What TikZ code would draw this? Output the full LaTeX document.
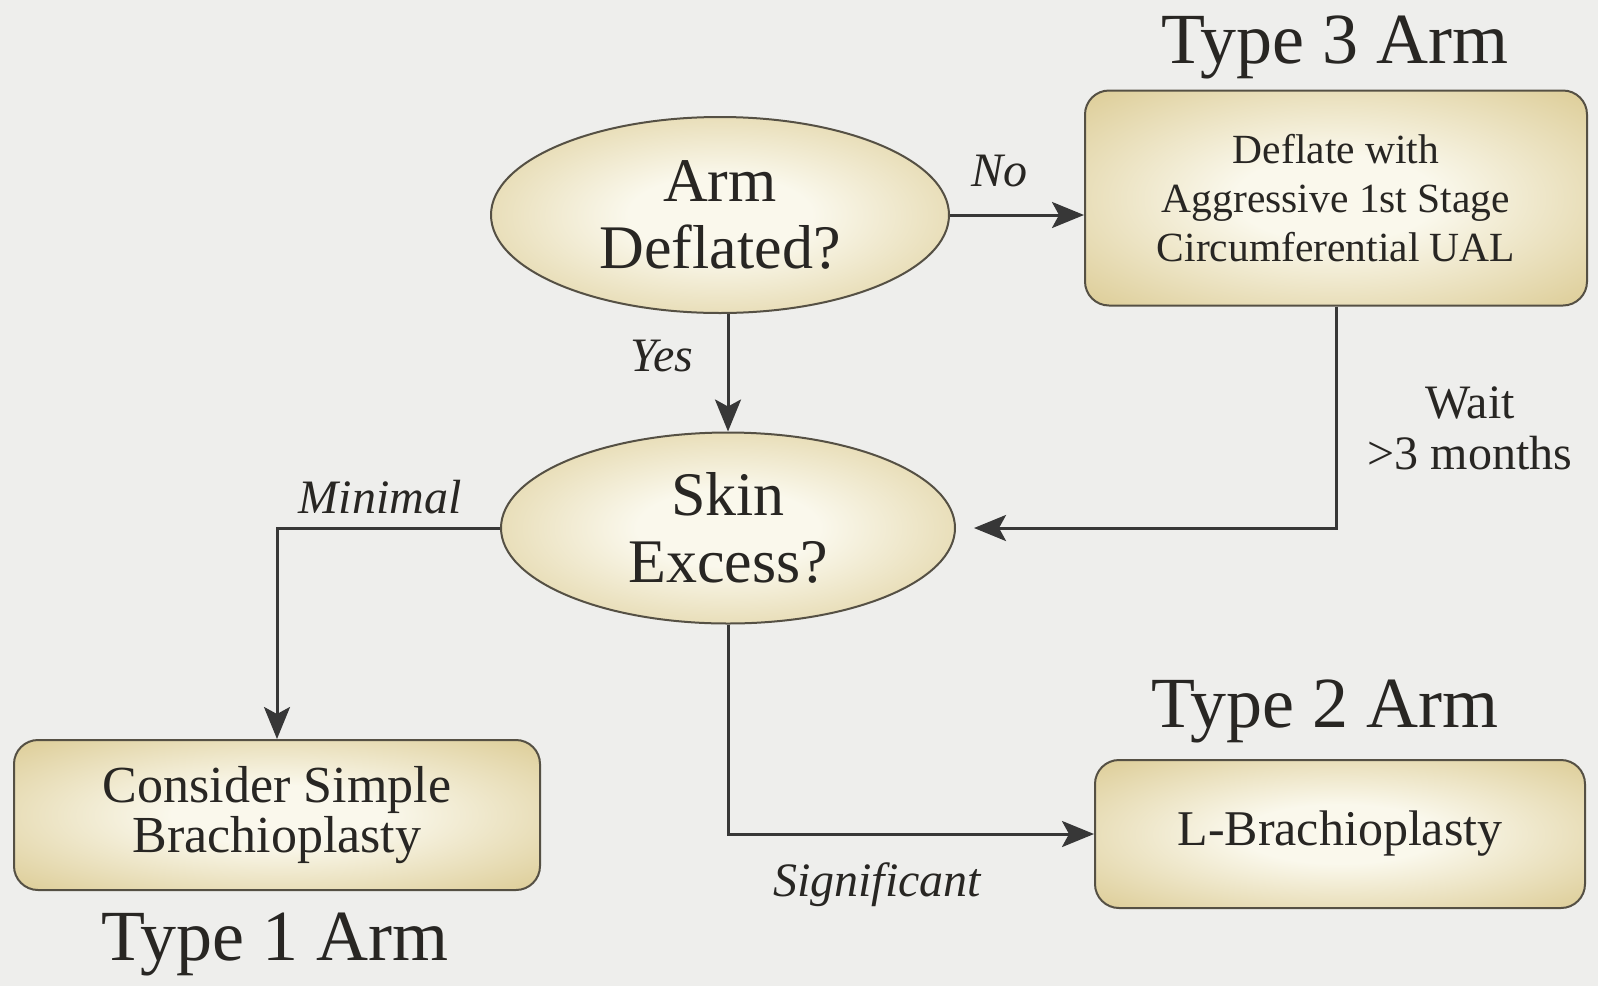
\documentclass[tikz,border=0pt]{standalone}
\usepackage{fontspec}
\setmainfont{Liberation Serif}
\usetikzlibrary{shapes.geometric,arrows.meta,shadings}
\definecolor{goldout}{RGB}{204,180,102}
\definecolor{goldin}{RGB}{250,248,236}
\definecolor{bgc}{RGB}{238,238,236}
\definecolor{edgec}{RGB}{85,80,68}
\definecolor{linec}{RGB}{55,55,55}
\definecolor{txtc}{RGB}{40,38,35}
\pgfdeclareradialshading{goldglow}{\pgfpoint{0bp}{0bp}}{color(0bp)=(goldin); color(10bp)=(goldin); color(50bp)=(goldout); color(72bp)=(goldout)}
\tikzset{
  decision/.style={ellipse, draw=edgec, line width=2pt, shading=goldglow, inner sep=0pt, align=center, text=txtc, font=\fontsize{62}{67}\selectfont},
  actbox/.style={rectangle, rounded corners=24pt, draw=edgec, line width=2pt, shading=goldglow, inner sep=0pt, align=center, text=txtc},
  flow/.style={draw=linec, line width=3pt, -{Stealth[length=32pt,width=26pt,inset=7pt]}},
  lab/.style={text=txtc, font=\fontsize{48}{51}\selectfont\itshape, inner sep=0pt},
  head/.style={text=txtc, font=\fontsize{72}{72}\selectfont, inner sep=0pt}
}
\begin{document}
\begin{tikzpicture}[x=1pt,y=-1pt]
\fill[bgc] (0,0) rectangle (1598,986);
\useasboundingbox (0,0) rectangle (1598,986);

\node[decision, minimum width=458, minimum height=196] (arm) at (720,215) {Arm\\Deflated?};
\node[actbox, minimum width=502, minimum height=215, font=\fontsize{41.5}{49}\selectfont] (deflate) at (1336,198) {Deflate with\\Aggressive 1st Stage\\Circumferential UAL};
\node[decision, minimum width=454, minimum height=191] (skin) at (728,528) {Skin\\Excess?};
\node[actbox, minimum width=526, minimum height=150, font=\fontsize{52}{50}\selectfont] (simple) at (277,815) {Consider Simple\\Brachioplasty};
\node[actbox, minimum width=490, minimum height=148, font=\fontsize{50}{50}\selectfont] (lbrach) at (1340,834) {L-Brachioplasty};

\node[head] (t3) at (1335,47) {Type 3 Arm};
\node[head] (t2) at (1325,711) {Type 2 Arm};
\node[head] (t1) at (275,944) {Type 1 Arm};

\draw[flow] (arm.east) -- (deflate.west |- arm.east);
\draw[flow] (skin.north |- arm.south) -- (skin.north);
\draw[flow, shorten >=18pt] (deflate.south) |- (skin.east);
\draw[flow] (skin.west) -| (simple.north);
\draw[flow] (skin.south) |- (lbrach.west);

\node[lab] (no) at (999,171) {No};
\node[lab] (yes) at (662,356) {Yes};
\node[lab] (minimal) at (380,497) {Minimal};
\node[lab] (signif) at (877,885) {Significant};
\node[lab, font=\fontsize{48}{51}\selectfont, align=center] (wait) at (1470,428) {Wait\\>3 months};
\end{tikzpicture}
\end{document}
